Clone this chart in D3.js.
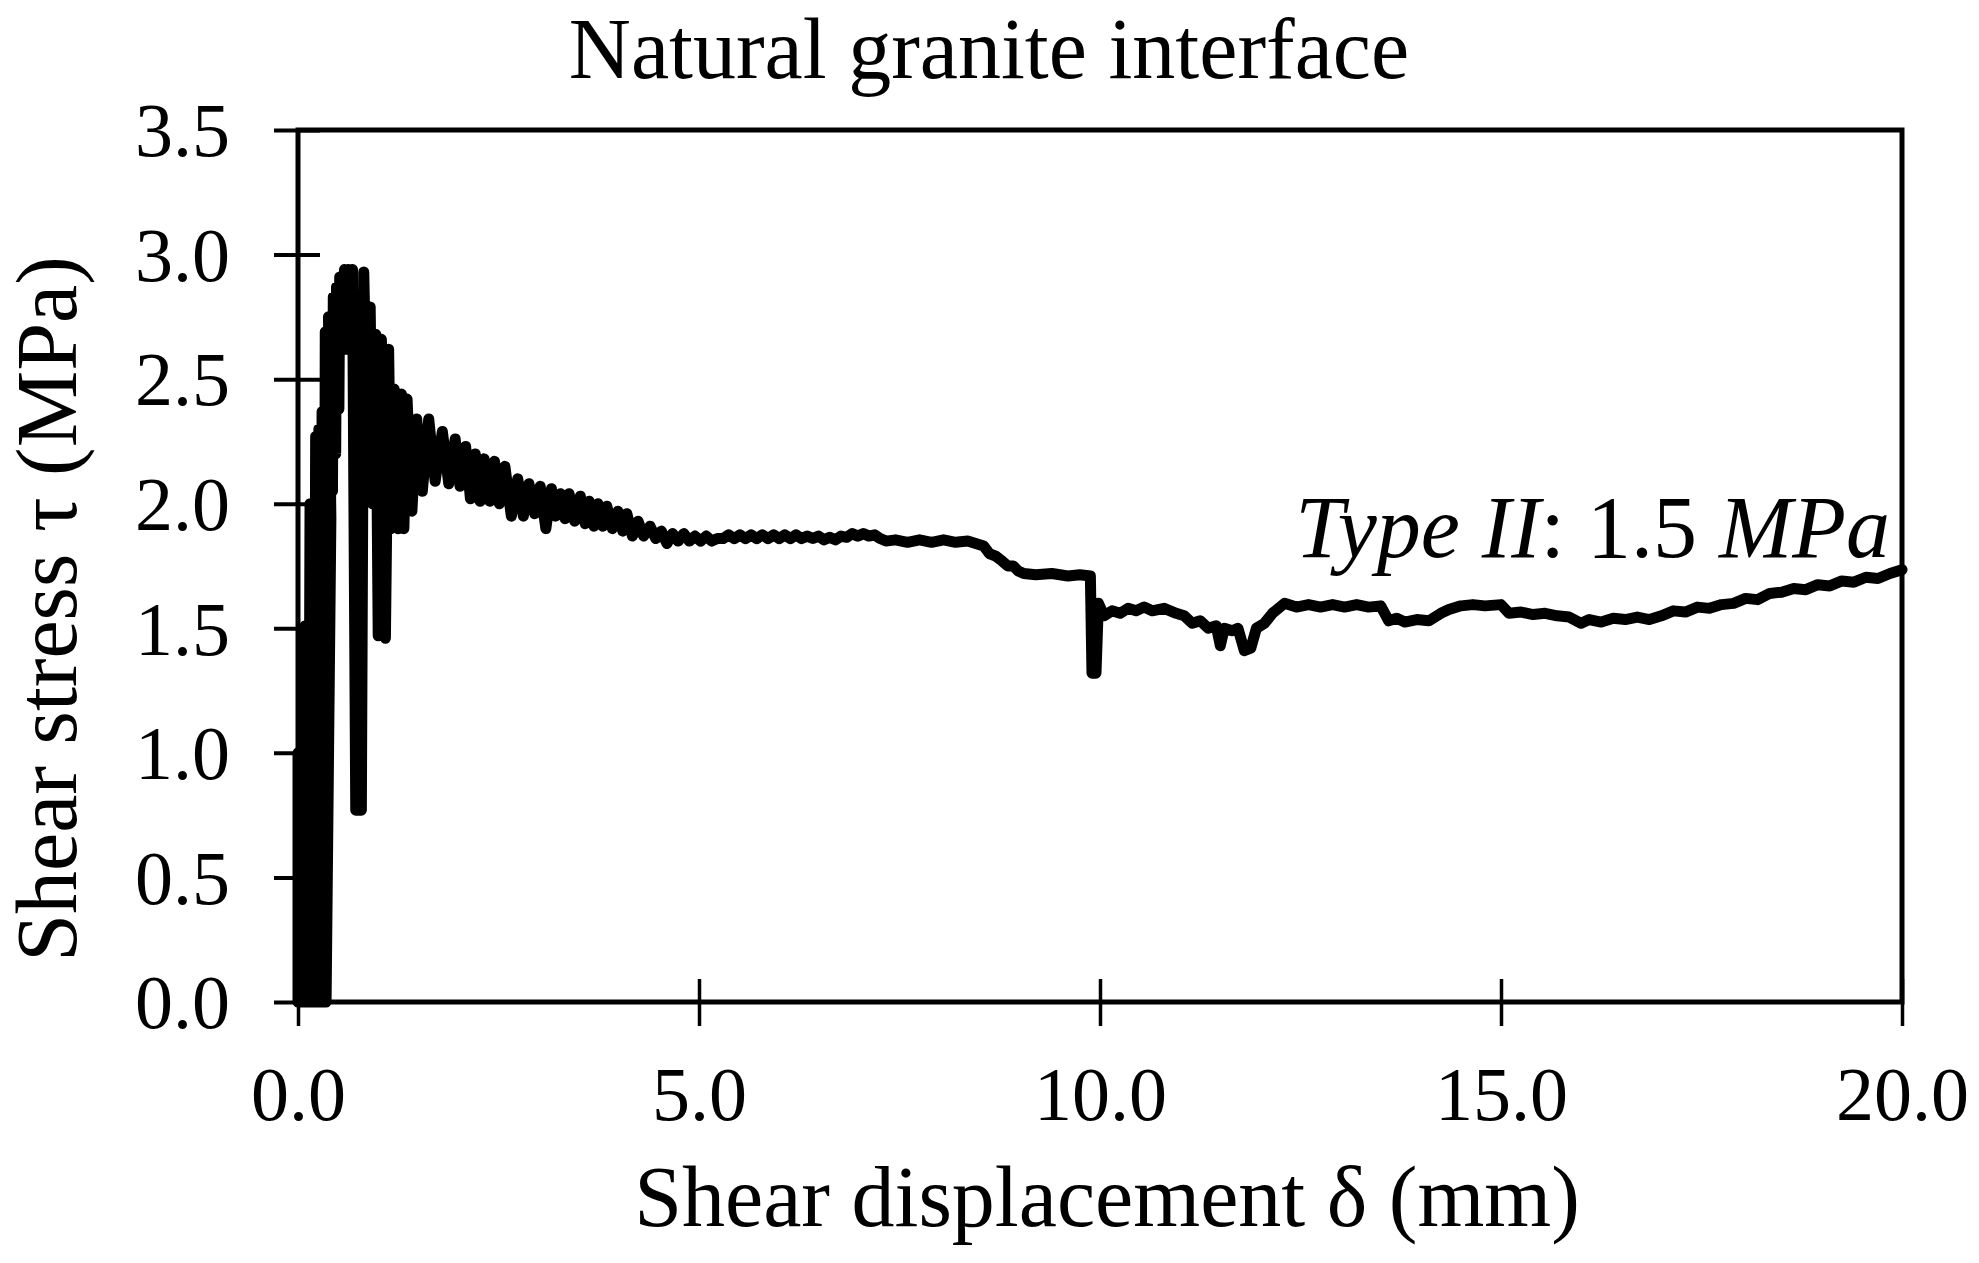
<!DOCTYPE html>
<html>
<head>
<meta charset="utf-8">
<script src="https://cdn.jsdelivr.net/npm/d3@7"></script>
<style>
  body { margin: 0; background: #fff; }
  text { font-family: "Liberation Serif", "Times New Roman", serif; fill: #000; }
</style>
</head>
<body>
<div id="chart"></div>
<script>
// shear test record, [displacement mm, stress MPa]
var preloadPts = [
  [0.00,0],[0.00,1.0],[0.02,0],[0.03,1.0],[0.05,0],[0.09,1.51],[0.10,0],[0.12,1.51],
  [0.13,0],[0.15,2.0],[0.17,0],[0.18,2.0],[0.20,0],[0.22,2.27],[0.24,0],[0.26,2.3],
  [0.28,0],[0.30,2.37],[0.32,0],[0.34,2.69],[0.35,0],[0.41,1.94]
];
var peakPts = [
  [0.38,2.75],[0.43,2.05],[0.44,2.83],[0.47,2.2],[0.48,2.87],[0.51,2.38],[0.52,2.91],
  [0.54,2.62],[0.58,2.94],[0.60,2.62],[0.63,2.94],[0.65,2.62],[0.68,2.94],[0.72,0.77],
  [0.79,0.77],[0.82,2.93],[0.86,2.3],[0.90,2.79],[0.93,2.0],[0.97,2.68],[1.00,1.47],
  [1.04,2.66],[1.09,1.46],[1.13,2.62],[1.16,1.9],[1.20,2.46],[1.25,1.90],[1.29,2.44],
  [1.32,1.90],[1.36,2.42],[1.42,1.97]
];
var decayPts = [
  [1.48,2.34],[1.55,2.05],[1.63,2.34],[1.71,2.09],[1.80,2.29],[1.88,2.08],[1.96,2.26],
  [2.02,2.07],[2.09,2.23],[2.15,2.02],[2.21,2.20],[2.27,2.01],[2.32,2.18],[2.39,2.01],
  [2.45,2.17],[2.51,2.00],[2.58,2.15],[2.66,1.95],[2.74,2.10],[2.81,1.95],[2.88,2.08],
  [2.95,1.96],[3.02,2.07],[3.09,1.90],[3.16,2.06],[3.21,1.95],[3.27,2.04],[3.33,1.94],
  [3.38,2.04],[3.45,1.93],[3.52,2.03],[3.58,1.92],[3.63,2.01],[3.69,1.91],[3.74,2.00],
  [3.80,1.91],[3.85,1.99],[3.92,1.90],[3.99,1.97],[4.05,1.89],[4.10,1.96],[4.17,1.87],
  [4.24,1.93],[4.31,1.87],[4.39,1.91],[4.46,1.86],[4.53,1.89],[4.60,1.84]
];
var plateauPts = [
  [4.67,1.88],[4.74,1.85],[4.81,1.88],[4.88,1.85],[4.95,1.87],[5.02,1.85],[5.09,1.87],
  [5.16,1.85],[5.23,1.86],[5.30,1.86],[5.37,1.875],[5.44,1.86],[5.51,1.875],[5.58,1.86],
  [5.65,1.875],[5.72,1.86],[5.79,1.875],[5.86,1.86],[5.93,1.875],[6.00,1.86],[6.07,1.875],
  [6.14,1.86],[6.21,1.875],[6.28,1.86],[6.35,1.87],[6.42,1.86],[6.49,1.87],[6.56,1.855],
  [6.63,1.865],[6.70,1.855],[6.77,1.87],[6.84,1.865],[6.91,1.88],[6.98,1.87],[7.05,1.88],
  [7.12,1.87],[7.19,1.875],[7.26,1.86],[7.33,1.85],[7.45,1.855],[7.6,1.845],[7.75,1.855],
  [7.9,1.845],[8.05,1.855],[8.2,1.845],[8.35,1.85],[8.45,1.84],[8.55,1.83],[8.62,1.80],
  [8.70,1.79],[8.78,1.77],[8.85,1.75],[8.92,1.75],[8.98,1.73],[9.05,1.72],[9.2,1.715],
  [9.4,1.72],[9.6,1.71],[9.75,1.715],[9.88,1.71]
];
var residualPts = [
  [9.90,1.32],[9.95,1.32],[9.98,1.60],[10.05,1.55],[10.15,1.57],[10.25,1.56],[10.35,1.58],
  [10.45,1.57],[10.55,1.585],[10.65,1.57],[10.8,1.58],[10.95,1.56],[11.05,1.55],[11.15,1.52],
  [11.25,1.53],[11.35,1.50],[11.45,1.51],[11.5,1.43],[11.55,1.50],[11.65,1.49],[11.72,1.50],
  [11.8,1.41],[11.88,1.42],[11.95,1.50],[12.05,1.52],[12.15,1.56],[12.3,1.60],[12.45,1.585],
  [12.6,1.595],[12.75,1.585],[12.9,1.595],[13.05,1.585],[13.2,1.595],[13.35,1.585],[13.5,1.59],
  [13.6,1.53],[13.7,1.54],[13.8,1.525],[13.95,1.535],[14.1,1.53],[14.25,1.56],[14.35,1.575],
  [14.5,1.59],[14.65,1.595],[14.8,1.59],[15.0,1.595],[15.1,1.56],[15.25,1.565],[15.4,1.555],
  [15.55,1.56],[15.7,1.55],[15.85,1.545],[16.0,1.52],[16.1,1.535],[16.25,1.525],[16.4,1.54],
  [16.55,1.535],[16.7,1.545],[16.85,1.535],[17.0,1.55],[17.15,1.57],[17.3,1.565],[17.45,1.585],
  [17.6,1.58],[17.75,1.595],[17.9,1.60],[18.05,1.62],[18.2,1.615],[18.35,1.64],[18.5,1.645],
  [18.65,1.66],[18.8,1.655],[18.95,1.675],[19.1,1.67],[19.25,1.69],[19.4,1.685],[19.55,1.705],
  [19.7,1.70],[19.85,1.72],[20.0,1.735]
];

var xTicks = [0, 5, 10, 15, 20];
var yTicks = [0, 0.5, 1.0, 1.5, 2.0, 2.5, 3.0, 3.5];

var titleText = "Natural granite interface";
var xTitle = "Shear displacement \u03b4 (mm)";
var yTitle = "Shear stress \u03c4 (MPa)";

var W = 1979, H = 1263;
var plotL = 298, plotR = 1902, plotT = 130, plotB = 1002;

var svg = d3.select("#chart").append("svg")
    .attr("width", W)
    .attr("height", H)
    .style("background", "#fff");

var x = d3.scaleLinear().domain([0, 20]).range([plotL, plotR]);
var y = d3.scaleLinear().domain([0, 3.5]).range([plotB, plotT]);

var curve = preloadPts.concat(peakPts, decayPts, plateauPts, residualPts);

// the test curve
svg.append("path")
    .datum(curve)
    .attr("fill", "none")
    .attr("stroke", "#000")
    .attr("stroke-width", 11)
    .attr("stroke-linejoin", "round")
    .attr("stroke-linecap", "round")
    .attr("d", d3.line()
        .x(function(d){ return x(d[0]); })
        .y(function(d){ return y(d[1]); }));

// plot frame
svg.append("rect")
    .attr("x", plotL).attr("y", plotT)
    .attr("width", plotR - plotL).attr("height", plotB - plotT)
    .attr("fill", "none")
    .attr("stroke", "#000")
    .attr("stroke-width", 5);

// x axis, ticks cross the line
var gx = svg.append("g")
    .attr("transform", "translate(0," + plotB + ")")
    .call(d3.axisBottom(x).tickValues(xTicks).tickFormat(d3.format(".1f")));
gx.select(".domain").remove();
gx.selectAll(".tick line")
    .attr("y1", -23).attr("y2", 24)
    .attr("stroke", "#000").attr("stroke-width", 3.5);
gx.selectAll(".tick text")
    .attr("y", 118).attr("dy", null)
    .style("font-family", "'Liberation Serif', serif")
    .style("font-size", "76px")
    .attr("fill", "#000");

// y axis
var gy = svg.append("g")
    .attr("transform", "translate(" + plotL + ",0)")
    .call(d3.axisLeft(y).tickValues(yTicks).tickFormat(d3.format(".1f")));
gy.select(".domain").remove();
gy.selectAll(".tick line")
    .attr("x1", -24).attr("x2", 22)
    .attr("stroke", "#000").attr("stroke-width", 4);
gy.selectAll(".tick text")
    .attr("x", -68).attr("dy", "0.34em")
    .style("font-family", "'Liberation Serif', serif")
    .style("font-size", "76px")
    .attr("fill", "#000");

// titles
svg.append("text")
    .attr("x", 989).attr("y", 78)
    .attr("text-anchor", "middle")
    .style("font-size", "86px")
    .text(titleText);

svg.append("text")
    .attr("x", 1107).attr("y", 1226)
    .attr("text-anchor", "middle")
    .style("font-size", "86px")
    .text(xTitle);

svg.append("text")
    .attr("transform", "translate(76,609) rotate(-90)")
    .attr("text-anchor", "middle")
    .style("font-size", "86px")
    .text(yTitle);

// annotation
var note = svg.append("text")
    .attr("x", 1890).attr("y", 557)
    .attr("text-anchor", "end")
    .style("font-size", "88px");
note.append("tspan").style("font-style", "italic").text("Type II");
note.append("tspan").text(": 1.5 ");
note.append("tspan").style("font-style", "italic").text("MPa");
</script>
</body>
</html>
